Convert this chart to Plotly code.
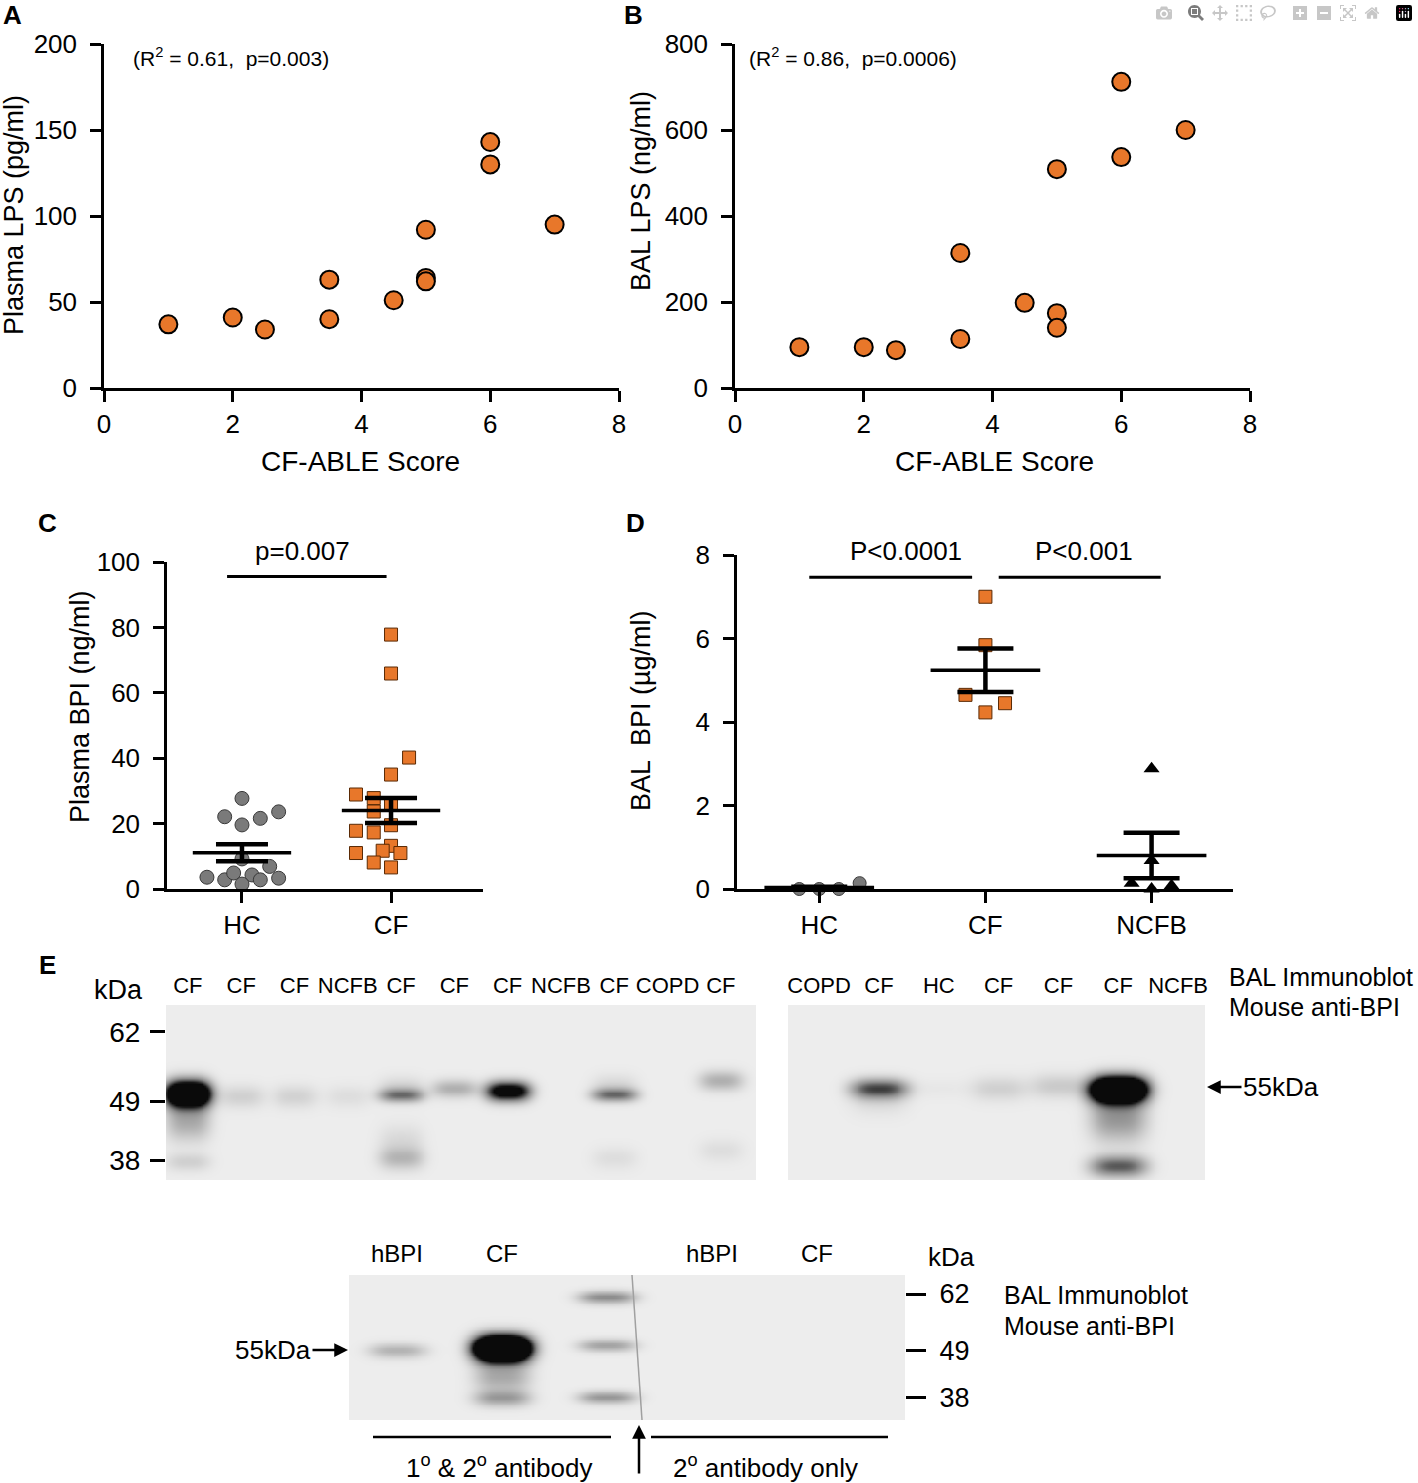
import numpy as np
import plotly.graph_objects as go

W, H = 1418, 1483

# ---- data ----
# A: plasma LPS vs CF-ABLE score
a_score = [1, 2, 2.5, 3.5, 3.5, 4.5, 5, 5, 5, 6, 6, 7]
a_lps = [37, 41, 34, 63, 40, 51, 92, 64, 62, 143, 130, 95]

# B: BAL LPS vs CF-ABLE score
b_score = [1, 2, 2.5, 3.5, 3.5, 4.5, 5, 5, 5, 6, 6, 7]
b_lps = [95, 95, 88, 314, 114, 198, 509, 174, 140, 712, 537, 600]

# C: plasma BPI, HC vs CF (values + horizontal scatter offset)
c_groups = ["HC", "CF"]
c_hc_val = [27.7, 22.1, 19.6, 21.6, 23.6, 9.2, 6.9, 3.6, 2.8, 4.9, 4.3, 2.8, 3.3, 1.5]
c_hc_off = [0, -0.116, 0, 0.123, 0.246, 0, 0.186, -0.235, -0.116, -0.056, 0.067, 0.123, 0.246, 0]
c_cf_val = [77.8, 65.9, 40.2, 35.0, 28.9, 27.8, 26.2, 23.7, 19.5, 17.8, 17.3, 13.2, 11.0, 11.7, 11.0, 8.1, 6.6]
c_cf_off = [0, 0, 0.121, 0, -0.235, -0.116, 0, -0.116, 0, -0.235, -0.116, 0, -0.235, -0.056, 0.063, -0.116, 0]
c_mean = [11.1, 24.0]
c_sem = [2.6, 3.85]

# D: BAL BPI, HC / CF / NCFB
d_groups = ["HC", "CF", "NCFB"]
d_hc_val = [0, 0, 0, 0.14]
d_hc_off = [-0.12, 0, 0.118, 0.243]
d_cf_val = [7.0, 5.84, 4.65, 4.45, 4.23]
d_cf_off = [0, 0, -0.12, 0.118, 0]
d_nc_val = [2.88, 0.68, 0.14, 0.08, 0.0]
d_nc_off = [0, 0, -0.12, 0.12, 0]
d_mean = [0.035, 5.24, 0.80]
d_sem = [0.02, 0.52, 0.545]

# E: immunoblots (lane index, apparent kDa, band intensity, band spread in kDa)
b1_lanes = ["CF", "CF", "CF", "NCFB", "CF", "CF", "CF", "NCFB", "CF", "COPD", "CF"]
b1_lane = [0, 0, 0, 1, 2, 3, 4, 4, 4, 4, 5, 6, 8, 8, 8, 10, 10]
b1_kda = [50.5, 45.5, 37.8, 50.0, 50.0, 50.0, 50.2, 51.5, 38.5, 42.0, 51.5, 51.0, 50.3, 52.0, 38.5, 53.0, 40.0]
b1_int = [2.2, 0.35, 0.15, 0.15, 0.14, 0.08, 0.55, 0.15, 0.28, 0.1, 0.32, 1.3, 0.6, 0.12, 0.08, 0.32, 0.08]
b1_sig = [1.7, 2.5, 1.2, 1.5, 1.5, 1.5, 0.9, 1.5, 1.5, 2.0, 1.2, 1.3, 0.9, 1.5, 1.5, 1.3, 1.5]

b2_lanes = ["COPD", "CF", "HC", "CF", "CF", "CF", "NCFB"]
b2_lane = [1, 1, 2, 3, 4, 5, 5, 5]
b2_kda = [51.5, 49.5, 51.5, 51.5, 52.0, 51.3, 46.0, 37.0]
b2_int = [0.75, 0.1, 0.03, 0.15, 0.18, 2.5, 0.45, 0.7]
b2_sig = [1.3, 2.0, 1.3, 1.6, 1.6, 1.7, 3.0, 1.4]

b3_lanes = ["hBPI", "CF", "", "hBPI", "CF"]
b3_lane = [0, 1, 1, 1, 2, 2, 2]
b3_kda = [49.0, 49.5, 43.0, 38.0, 61.3, 50.2, 38.2]
b3_int = [0.3, 3.0, 0.35, 0.4, 0.5, 0.38, 0.45]
b3_sig = [1.2, 2.0, 2.5, 1.3, 1.0, 1.0, 1.0]

kda_marks = [62, 49, 38]


def xdom(a, b):
    return [a / W, b / W]


def ydom(top, bottom):
    return [1 - bottom / H, 1 - top / H]


def ann(text, x, y, size, **kw):
    d = dict(text=text, x=x / W, y=1 - y / H, xref="paper", yref="paper",
             xanchor="center", yanchor="middle",
             showarrow=False, font=dict(size=size, color="black"))
    d.update(kw)
    return d


def blot_z(xs, ys, lanes, kdas, ints, sigs, half_w):
    X, Y = np.meshgrid(xs, ys)
    z = np.zeros_like(X)
    for l, k, a, s in zip(lanes, kdas, ints, sigs):
        z += a * np.exp(-np.abs((X - l) / half_w) ** 3) * np.exp(-0.5 * ((Y - k) / s) ** 2)
    return np.round(np.clip(z, 0, 1), 3)


orange = "#E8772A"
blot_scale = [[0, "#EDEDED"], [0.5, "#8C8C8C"], [1, "#0A0A0A"]]

fig = go.Figure()

# A
fig.add_trace(go.Scatter(x=a_score, y=a_lps, mode="markers", xaxis="x", yaxis="y",
                         marker=dict(size=18, color=orange, line=dict(color="black", width=2))))
# B
fig.add_trace(go.Scatter(x=b_score, y=b_lps, mode="markers", xaxis="x2", yaxis="y2",
                         marker=dict(size=18, color=orange, line=dict(color="black", width=2))))

# C points
fig.add_trace(go.Scatter(x=[1 + o for o in c_hc_off], y=c_hc_val, mode="markers", xaxis="x3", yaxis="y3",
                         cliponaxis=False,
                         marker=dict(size=14, color="#7A7A7A", line=dict(color="#3A3A3A", width=1))))
fig.add_trace(go.Scatter(x=[2 + o for o in c_cf_off], y=c_cf_val, mode="markers", xaxis="x3", yaxis="y3",
                         cliponaxis=False, marker=dict(size=13, symbol="square", color=orange,
                                                       line=dict(color="#5A2A05", width=1))))
# C mean +/- SEM
for i, (m, s) in enumerate(zip(c_mean, c_sem)):
    g = i + 1
    fig.add_trace(go.Scatter(x=[g - 0.33, g + 0.33], y=[m, m], mode="lines", xaxis="x3", yaxis="y3",
                             line=dict(color="black", width=3.5)))
    fig.add_trace(go.Scatter(x=[g], y=[m], mode="markers", xaxis="x3", yaxis="y3",
                             marker=dict(size=1, color="rgba(0,0,0,0)"),
                             error_y=dict(type="data", array=[s], width=26, thickness=4.5, color="black")))

# D points
fig.add_trace(go.Scatter(x=[1 + o for o in d_hc_off], y=d_hc_val, mode="markers", xaxis="x4", yaxis="y4",
                         cliponaxis=False,
                         marker=dict(size=13, color="#7A7A7A", line=dict(color="#3A3A3A", width=1))))
fig.add_trace(go.Scatter(x=[2 + o for o in d_cf_off], y=d_cf_val, mode="markers", xaxis="x4", yaxis="y4",
                         cliponaxis=False, marker=dict(size=13, symbol="square", color=orange,
                                                       line=dict(color="#5A2A05", width=1))))
fig.add_trace(go.Scatter(x=[3 + o for o in d_nc_off], y=d_nc_val, mode="markers", xaxis="x4", yaxis="y4",
                         cliponaxis=False, marker=dict(size=14, symbol="triangle-up", color="black")))
for i, (m, s) in enumerate(zip(d_mean, d_sem)):
    g = i + 1
    fig.add_trace(go.Scatter(x=[g - 0.33, g + 0.33], y=[m, m], mode="lines", xaxis="x4", yaxis="y4",
                             cliponaxis=False, line=dict(color="black", width=3.5)))
    fig.add_trace(go.Scatter(x=[g], y=[m], mode="markers", xaxis="x4", yaxis="y4", cliponaxis=False,
                             marker=dict(size=1, color="rgba(0,0,0,0)"),
                             error_y=dict(type="data", array=[s], width=28, thickness=4.5, color="black")))

# E blots
b1_xr, b1_yr = [-0.41, 10.66], [34.4, 67.0]
b2_xr, b2_yr = [-0.52, 6.45], [34.4, 67.0]
b3_xr, b3_yr = [-0.457, 4.838], [32.9, 66.4]

for xr, yr, lanes, kdas, ints, sigs, hw, xa, ya, nx in [
    (b1_xr, b1_yr, b1_lane, b1_kda, b1_int, b1_sig, 0.42, "x5", "y5", 300),
    (b2_xr, b2_yr, b2_lane, b2_kda, b2_int, b2_sig, 0.47, "x6", "y6", 220),
    (b3_xr, b3_yr, b3_lane, b3_kda, b3_int, b3_sig, 0.27, "x7", "y7", 280),
]:
    xs = np.linspace(xr[0], xr[1], nx)
    ys = np.linspace(yr[0], yr[1], 90)
    fig.add_trace(go.Heatmap(x=xs, y=ys, z=blot_z(xs, ys, lanes, kdas, ints, sigs, hw),
                             xaxis=xa, yaxis=ya, colorscale=blot_scale, zmin=0, zmax=1,
                             showscale=False, hoverinfo="skip", zsmooth="best"))

axis_style = dict(showline=True, linewidth=2.5, linecolor="black", ticks="outside", ticklen=11,
                  tickwidth=2.5, tickcolor="black", showgrid=False, zeroline=False, automargin=False,
                  tickfont=dict(size=26, color="black"))
xa_style = dict(axis_style, ticklabelstandoff=0)
ya_style = dict(axis_style, ticklabelstandoff=8)
blot_x = dict(showline=False, showgrid=False, zeroline=False, ticks="", side="top", automargin=False,
              tickfont=dict(size=22, color="black"), ticklabelstandoff=7)
blot_y = dict(showline=False, showgrid=False, zeroline=False, ticks="outside", ticklen=15,
              tickwidth=3, tickcolor="black", tickfont=dict(size=28, color="black"), automargin=False,
              tickvals=kda_marks, ticklabelstandoff=4)

fig.update_layout(
    width=W, height=H, margin=dict(l=0, r=0, t=0, b=0, pad=0), autosize=False,
    paper_bgcolor="white", plot_bgcolor="white", showlegend=False,
    font=dict(family="Liberation Sans, Arial, sans-serif", color="black"),
    xaxis=dict(xa_style, domain=xdom(104, 619), range=[0, 8], tickvals=[0, 2, 4, 6, 8], anchor="y"),
    yaxis=dict(ya_style, domain=ydom(44, 388), range=[0, 200], tickvals=[0, 50, 100, 150, 200], anchor="x"),
    xaxis2=dict(xa_style, domain=xdom(735, 1250), range=[0, 8], tickvals=[0, 2, 4, 6, 8], anchor="y2"),
    yaxis2=dict(ya_style, domain=ydom(44, 388), range=[0, 800], tickvals=[0, 200, 400, 600, 800], anchor="x2"),
    xaxis3=dict(xa_style, domain=xdom(167, 483), range=[0.497, 2.617], tickvals=[1, 2],
                ticktext=c_groups, anchor="y3"),
    yaxis3=dict(ya_style, domain=ydom(562, 889), range=[0, 100], tickvals=[0, 20, 40, 60, 80, 100], anchor="x3"),
    xaxis4=dict(xa_style, domain=xdom(737, 1233), range=[0.505, 3.49], tickvals=[1, 2, 3],
                ticktext=d_groups, anchor="y4"),
    yaxis4=dict(ya_style, domain=ydom(555, 889), range=[0, 8], tickvals=[0, 2, 4, 6, 8], anchor="x4"),
    xaxis5=dict(blot_x, domain=xdom(166, 756), range=b1_xr, tickvals=list(range(len(b1_lanes))),
                ticktext=b1_lanes, anchor="y5"),
    yaxis5=dict(blot_y, domain=ydom(1005, 1180), range=b1_yr, anchor="x5"),
    xaxis6=dict(blot_x, domain=xdom(788, 1205), range=b2_xr, tickvals=list(range(len(b2_lanes))),
                ticktext=b2_lanes, anchor="y6"),
    yaxis6=dict(showline=False, showgrid=False, zeroline=False, showticklabels=False, automargin=False,
                domain=ydom(1005, 1180), range=b2_yr, anchor="x6"),
    xaxis7=dict(blot_x, domain=xdom(349, 905), range=b3_xr, tickvals=list(range(len(b3_lanes))),
                ticktext=b3_lanes, anchor="y7", tickfont=dict(size=24, color="black")),
    yaxis7=dict(blot_y, domain=ydom(1275, 1420), range=b3_yr, anchor="x7", side="right",
                ticklen=20, tickfont=dict(size=27, color="black"), ticklabelstandoff=8),
)

shapes = [
    dict(type="line", xref="x3", yref="y3", x0=0.9, x1=1.97, y0=95.6, y1=95.6,
         line=dict(color="black", width=3)),
    dict(type="line", xref="x4", yref="y4", x0=0.94, x1=1.92, y0=7.47, y1=7.47,
         line=dict(color="black", width=3)),
    dict(type="line", xref="x4", yref="y4", x0=2.08, x1=3.055, y0=7.47, y1=7.47,
         line=dict(color="black", width=3)),
    dict(type="line", xref="paper", yref="paper", x0=373 / W, x1=611 / W, y0=1 - 1437 / H, y1=1 - 1437 / H,
         line=dict(color="black", width=2.5)),
    dict(type="line", xref="paper", yref="paper", x0=651 / W, x1=888 / W, y0=1 - 1437 / H, y1=1 - 1437 / H,
         line=dict(color="black", width=2.5)),
    dict(type="line", xref="paper", yref="paper", x0=632 / W, x1=642 / W, y0=1 - 1275 / H, y1=1 - 1420 / H,
         line=dict(color="#A0A0A0", width=1.5)),
]

annotations = [
    ann("<b>A</b>", 1, 15, 26, xanchor="left"),
    ann("<b>B</b>", 622, 15, 26, xanchor="left"),
    ann("<b>C</b>", 36, 523, 26, xanchor="left"),
    ann("<b>D</b>", 624, 523, 26, xanchor="left"),
    ann("<b>E</b>", 37, 965, 26, xanchor="left"),
    ann("(R<sup>2</sup> = 0.61,  p=0.003)", 131, 57, 21, xanchor="left"),
    ann("(R<sup>2</sup> = 0.86,  p=0.0006)", 747, 57, 21, xanchor="left"),
    ann("Plasma LPS (pg/ml)", 14, 215, 27, textangle=-90),
    ann("CF-ABLE Score", 360, 461, 28),
    ann("BAL LPS (ng/ml)", 641, 191, 27, textangle=-90),
    ann("CF-ABLE Score", 994, 461, 28),
    ann("Plasma BPI (ng/ml)", 80, 707, 27, textangle=-90),
    ann("BAL  BPI (µg/ml)", 641, 711, 27, textangle=-90),
    ann("p=0.007", 302, 551, 26),
    ann("P<0.0001", 906, 551, 26),
    ann("P<0.001", 1084, 551, 26),
    ann("kDa", 119, 990, 27),
    ann("BAL Immunoblot", 1227, 977, 25, xanchor="left"),
    ann("Mouse anti-BPI", 1227, 1007, 25, xanchor="left"),
    ann("55kDa", 1207, 1087, 26, showarrow=True, ax=74, ay=0, arrowhead=2, arrowsize=1.1,
        arrowwidth=2.5, arrowcolor="black", standoff=0),
    ann("55kDa", 348, 1350, 26, showarrow=True, ax=-75, ay=0, arrowhead=2, arrowsize=1.1,
        arrowwidth=2.5, arrowcolor="black", standoff=0),
    ann("kDa", 952, 1257, 26),
    ann("BAL Immunoblot", 1002, 1295, 25, xanchor="left"),
    ann("Mouse anti-BPI", 1002, 1326, 25, xanchor="left"),
    ann("1<sup>o</sup> & 2<sup>o</sup> antibody", 499, 1466, 26),
    ann("2<sup>o</sup> antibody only", 765, 1466, 26),
    ann("", 639, 1425, 10, showarrow=True, ax=0, ay=50, arrowhead=2, arrowsize=1.1,
        arrowwidth=2.5, arrowcolor="black", standoff=0),
]

fig.update_layout(shapes=shapes, annotations=annotations)

fig.write_html("out.html", post_script="document.body.style.margin='0px';")
